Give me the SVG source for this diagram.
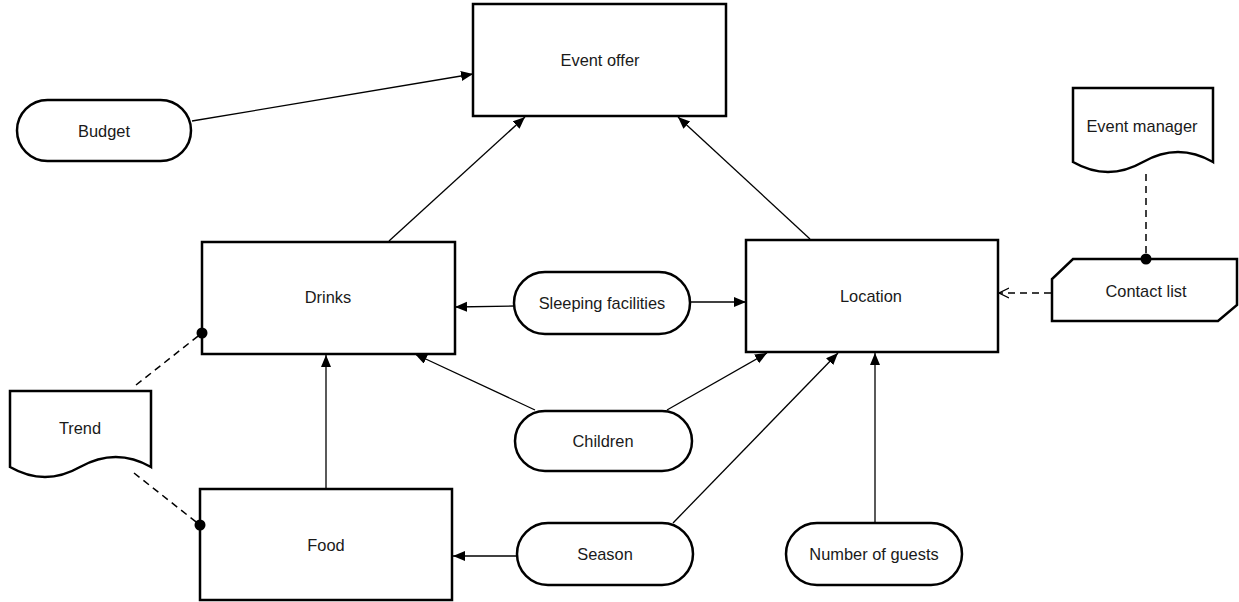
<svg xmlns="http://www.w3.org/2000/svg" width="1239" height="602" viewBox="0 0 1239 602">
<style>
.box{fill:#fff;stroke:#000;stroke-width:2.5}
.lbl{font-family:"Liberation Sans",Arial,sans-serif;font-size:16.4px;fill:#1a1a1a;text-anchor:middle;dominant-baseline:central}
.c{stroke:#000;stroke-width:1.3;fill:none}
.d{stroke:#000;stroke-width:1.5;fill:none;stroke-dasharray:7 5}
</style>
<defs>
<marker id="ah" markerUnits="userSpaceOnUse" markerWidth="13" markerHeight="11" refX="12" refY="5" orient="auto">
<path d="M0,0 L12,5 L0,10 Z" fill="#000"/>
</marker>
<marker id="oa" markerUnits="userSpaceOnUse" markerWidth="12" markerHeight="12" refX="10" refY="6" orient="auto">
<path d="M0,1 L10,6 L0,11" fill="none" stroke="#000" stroke-width="1.3"/>
</marker>
</defs>
<rect width="1239" height="602" fill="#fff"/>
<g id="connectors">
<line class="c" x1="192" y1="121" x2="473" y2="74" marker-end="url(#ah)"/>
<line class="c" x1="389" y1="241" x2="525" y2="117" marker-end="url(#ah)"/>
<line class="c" x1="810" y1="239" x2="678" y2="117" marker-end="url(#ah)"/>
<line class="c" x1="514" y1="306" x2="455" y2="307" marker-end="url(#ah)"/>
<line class="c" x1="690" y1="302" x2="746" y2="302" marker-end="url(#ah)"/>
<line class="c" x1="535" y1="410" x2="415" y2="354" marker-end="url(#ah)"/>
<line class="c" x1="667" y1="410" x2="767" y2="353" marker-end="url(#ah)"/>
<line class="c" x1="673" y1="523" x2="838" y2="353" marker-end="url(#ah)"/>
<line class="c" x1="875" y1="522" x2="875" y2="353" marker-end="url(#ah)"/>
<line class="c" x1="326" y1="489" x2="326" y2="355" marker-end="url(#ah)"/>
<line class="c" x1="517" y1="556" x2="453" y2="556" marker-end="url(#ah)"/>
<line class="d" x1="1051" y1="293" x2="999" y2="293" marker-end="url(#oa)"/>
<line class="d" x1="1146" y1="174" x2="1146" y2="259"/>
<line class="d" x1="136" y1="385" x2="202" y2="333"/>
<line class="d" x1="134" y1="473" x2="200" y2="525"/>
</g>
<g id="event-offer"><rect class="box" x="473" y="4" width="253" height="112"/><text class="lbl" x="600" y="60">Event offer</text></g>
<g id="budget"><rect class="box" x="17" y="100" width="174" height="61" rx="30.5"/><text class="lbl" x="104" y="131">Budget</text></g>
<g id="drinks"><rect class="box" x="202" y="242" width="253" height="112"/><text class="lbl" x="328" y="297">Drinks</text></g>
<g id="location"><rect class="box" x="746" y="240" width="252" height="112"/><text class="lbl" x="871" y="296">Location</text></g>
<g id="food"><rect class="box" x="200" y="489" width="252" height="111"/><text class="lbl" x="326" y="545">Food</text></g>
<g id="sleeping"><rect class="box" x="514" y="272" width="176" height="62" rx="31"/><text class="lbl" x="602" y="303">Sleeping facilities</text></g>
<g id="children"><rect class="box" x="515" y="411" width="177" height="60" rx="30"/><text class="lbl" x="603" y="441">Children</text></g>
<g id="season"><rect class="box" x="517" y="523" width="176" height="62" rx="31"/><text class="lbl" x="605" y="554">Season</text></g>
<g id="guests"><rect class="box" x="786" y="523" width="176" height="62" rx="31"/><text class="lbl" x="874" y="554">Number of guests</text></g>
<g id="trend"><path class="box" d="M10,391 H151 V467 Q116,447 80,467 Q45,487 10,467 Z"/><text class="lbl" x="80" y="428">Trend</text></g>
<g id="event-manager"><path class="box" d="M1073,88 H1213 V162 Q1178,142 1143,162 Q1108,182 1073,162 Z"/><text class="lbl" x="1142" y="126">Event manager</text></g>
<g id="contact-list"><path class="box" d="M1073,259 H1237 V305 L1218,321 H1052 V279 Z"/><text class="lbl" x="1146" y="291">Contact list</text></g>
<g id="dots">
<circle cx="1146" cy="259" r="5.5"/>
<circle cx="202" cy="333" r="5.5"/>
<circle cx="200" cy="525" r="5.5"/>
</g>
</svg>
